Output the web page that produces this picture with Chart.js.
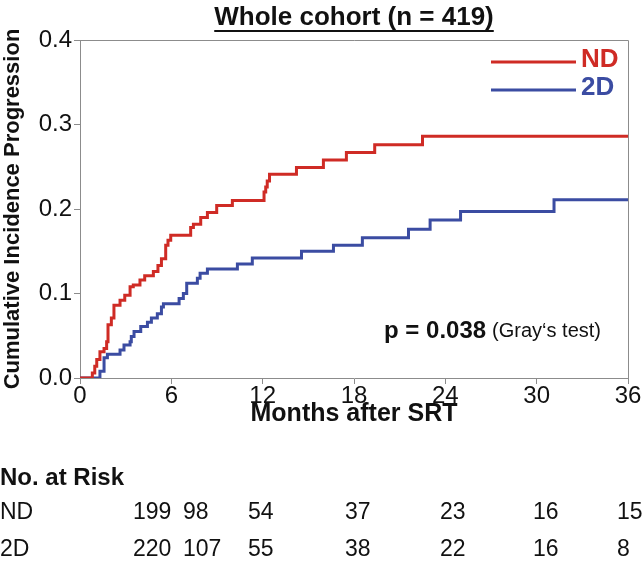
<!DOCTYPE html>
<html>
<head>
<meta charset="utf-8">
<script src="https://cdn.jsdelivr.net/npm/chart.js@4.4.1/dist/chart.umd.min.js"></script>
<style>
    html, body { margin: 0; padding: 0; background: #fff; }
    #wrap { width: 644px; height: 571px; }
</style>
</head>
<body>
<div id="wrap"><canvas id="myChart" width="644" height="571"></canvas></div>
<script>
// step times (months) and cumulative incidence values
const ndMonths = [0, 0.81, 0.97, 1.10, 1.31, 1.58, 1.75, 1.84, 2.06, 2.23, 2.63, 2.94, 3.29, 3.50, 3.94, 4.25, 4.82, 5.12, 5.35, 5.63, 5.78, 5.96, 7.27, 7.45, 7.93, 8.37, 8.98, 10.01, 12.09, 12.20, 12.30, 12.45, 14.22, 15.99, 17.50, 19.36, 22.50, 36];
const ndValues = [0, 0.006, 0.014, 0.022, 0.031, 0.035, 0.043, 0.063, 0.071, 0.086, 0.092, 0.098, 0.108, 0.110, 0.116, 0.121, 0.126, 0.133, 0.141, 0.157, 0.163, 0.169, 0.178, 0.182, 0.190, 0.196, 0.204, 0.210, 0.220, 0.226, 0.233, 0.241, 0.249, 0.258, 0.267, 0.276, 0.286, 0.286];

const tdMonths = [0, 1.31, 1.58, 1.80, 2.63, 2.89, 3.29, 3.37, 3.55, 3.99, 4.43, 4.69, 5.08, 5.35, 5.48, 6.51, 6.79, 7.01, 7.71, 7.89, 8.37, 10.34, 11.32, 14.55, 16.65, 18.55, 21.58, 23.00, 25.00, 31.14, 36];
const tdValues = [0, 0.008, 0.024, 0.028, 0.033, 0.039, 0.043, 0.049, 0.055, 0.061, 0.066, 0.071, 0.076, 0.084, 0.088, 0.094, 0.100, 0.112, 0.118, 0.124, 0.129, 0.135, 0.142, 0.150, 0.157, 0.166, 0.176, 0.187, 0.197, 0.211, 0.211];

const seriesNames = ['ND', '2D'];
const seriesColors = ['#cf2b25', '#3b4ca2'];

// number at risk table
const riskGroups = ['ND', '2D'];
const ndRisk = [199, 98, 54, 37, 23, 16, 15];
const tdRisk = [220, 107, 55, 38, 22, 16, 8];

const FONT = "'Liberation Sans', Arial, sans-serif";
const AXIS_GREY = '#8c8c8c';

function toPoints(xs, ys) {
    return xs.map((x, i) => ({ x: x, y: ys[i] }));
}

// top and right borders of the plot box
const frame = {
    id: 'frame',
    afterDraw(chart) {
        const { ctx, chartArea: a } = chart;
        ctx.save();
        ctx.strokeStyle = AXIS_GREY;
        ctx.lineWidth = 1;
        ctx.beginPath();
        ctx.moveTo(a.left, a.top + 0.5);
        ctx.lineTo(a.right + 0.5, a.top + 0.5);
        ctx.lineTo(a.right + 0.5, a.bottom);
        ctx.stroke();
        ctx.restore();
    }
};

// title, legend, p-value and the risk table
const extras = {
    id: 'extras',
    afterDraw(chart) {
        const { ctx, chartArea: a } = chart;
        ctx.save();
        ctx.fillStyle = '#111';
        ctx.textBaseline = 'middle';

        // underlined title
        const title = 'Whole cohort (n = 419)';
        ctx.font = 'bold 26px ' + FONT;
        ctx.textAlign = 'center';
        const cx = (a.left + a.right) / 2;
        ctx.fillText(title, cx, 18);
        const tw = ctx.measureText(title).width;
        ctx.fillRect(cx - tw / 2, 30, tw, 2);

        // legend
        const legendY = [62, 90];
        seriesNames.forEach((name, i) => {
            ctx.strokeStyle = seriesColors[i];
            ctx.lineWidth = 3;
            ctx.beginPath();
            ctx.moveTo(491, legendY[i]);
            ctx.lineTo(576, legendY[i]);
            ctx.stroke();
            ctx.fillStyle = seriesColors[i];
            ctx.font = 'bold 26px ' + FONT;
            ctx.textAlign = 'left';
            ctx.fillText(name, 581, legendY[i] - 2);
        });

        // p-value
        ctx.fillStyle = '#111';
        ctx.textAlign = 'right';
        ctx.font = '20px ' + FONT;
        const note = '(Gray\u2018s test)';
        ctx.fillText(note, 601, 331);
        const nw = ctx.measureText(note).width;
        ctx.font = 'bold 24px ' + FONT;
        ctx.fillText('p = 0.038', 601 - nw - 6, 331);

        // number at risk
        ctx.textAlign = 'left';
        ctx.font = 'bold 24px ' + FONT;
        ctx.fillText('No. at Risk', 0, 478);
        ctx.font = '23px ' + FONT;
        const colX = [133, 183, 248, 345, 440, 533, 617];
        const rowY = [513, 550];
        [ndRisk, tdRisk].forEach((row, r) => {
            ctx.fillText(riskGroups[r], 0, rowY[r]);
            row.forEach((v, c) => ctx.fillText(String(v), colX[c], rowY[r]));
        });
        ctx.restore();
    }
};

new Chart(document.getElementById('myChart'), {
    type: 'line',
    data: {
        datasets: [
            { label: seriesNames[0], data: toPoints(ndMonths, ndValues), borderColor: seriesColors[0] },
            { label: seriesNames[1], data: toPoints(tdMonths, tdValues), borderColor: seriesColors[1] }
        ]
    },
    options: {
        responsive: false,
        animation: false,
        layout: { padding: { top: 40, right: 16, bottom: 140, left: 0 } },
        elements: {
            line: { stepped: true, borderWidth: 3, fill: false, tension: 0 },
            point: { radius: 0 }
        },
        plugins: {
            legend: { display: false },
            tooltip: { enabled: false }
        },
        scales: {
            x: {
                type: 'linear',
                min: 0,
                max: 36,
                afterFit: axis => { axis.height = 53; },
                ticks: { stepSize: 6, color: '#111', padding: 0, font: { family: FONT, size: 24, lineHeight: 1 } },
                grid: { drawOnChartArea: false, tickLength: 6, color: AXIS_GREY },
                border: { color: AXIS_GREY },
                title: {
                    display: true,
                    text: 'Months after SRT',
                    color: '#111',
                    padding: { top: 0, bottom: 2 },
                    font: { family: FONT, size: 25, weight: 'bold' }
                }
            },
            y: {
                min: 0,
                max: 0.4,
                afterFit: axis => { axis.width = 80; },
                ticks: {
                    stepSize: 0.1,
                    color: '#111',
                    padding: 2,
                    font: { family: FONT, size: 24 },
                    callback: v => v.toFixed(1)
                },
                grid: { drawOnChartArea: false, tickLength: 6, color: AXIS_GREY },
                border: { color: AXIS_GREY },
                title: {
                    display: true,
                    text: 'Cumulative Incidence Progression',
                    color: '#111',
                    padding: { top: 0, bottom: 0 },
                    font: { family: FONT, size: 22, weight: 'bold' }
                }
            }
        }
    },
    plugins: [frame, extras]
});
</script>
</body>
</html>
